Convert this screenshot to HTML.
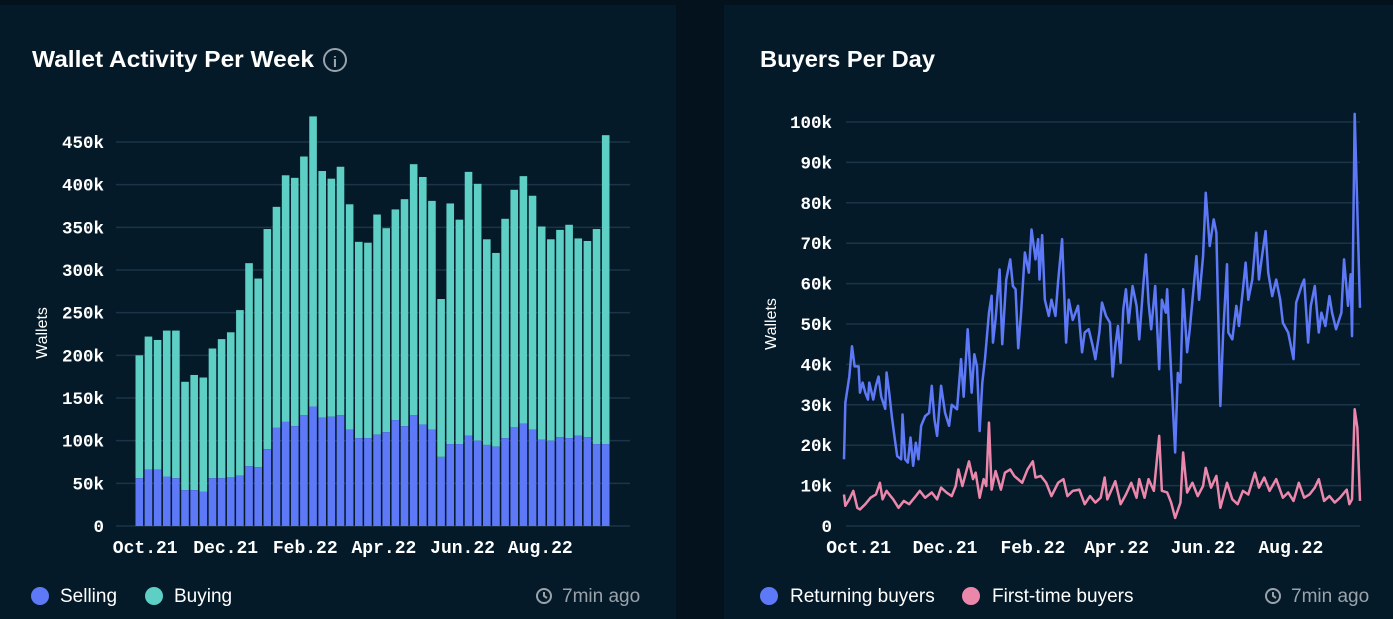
<!DOCTYPE html>
<html><head><meta charset="utf-8">
<style>
html,body{margin:0;padding:0;background:#03121c;width:1393px;height:619px;overflow:hidden}
svg{display:block}
.t{font-family:"Liberation Sans",sans-serif}
.m{font-family:"Liberation Mono",monospace;font-weight:bold}
</style></head><body>
<svg id="s" width="1393" height="619" xmlns="http://www.w3.org/2000/svg">
<rect x="0" y="5" width="676" height="614" fill="#041a29"/>
<rect x="724" y="5" width="669" height="614" fill="#041a29"/>
<text x="32" y="67" class="t" font-size="23" font-weight="bold" fill="#fff" textLength="282" lengthAdjust="spacingAndGlyphs">Wallet Activity Per Week</text>
<g><circle cx="335" cy="60" r="11" fill="none" stroke="#9aa3ab" stroke-width="2"/><text x="335" y="67" text-anchor="middle" class="t" font-size="15" font-weight="bold" fill="#9aa3ab">i</text></g>
<text x="760" y="67" class="t" font-size="23" font-weight="bold" fill="#fff" textLength="175" lengthAdjust="spacingAndGlyphs">Buyers Per Day</text>
<text x="47" y="333" class="t" font-size="16" fill="#fff" transform="rotate(-90 47 333)" text-anchor="middle">Wallets</text>
<text x="776" y="324" class="t" font-size="16" fill="#fff" transform="rotate(-90 776 324)" text-anchor="middle">Wallets</text>
<g><circle cx="40" cy="596" r="9" fill="#5e79f7"/><text x="60" y="602" class="t" font-size="19" fill="#fff">Selling</text></g>
<g><circle cx="154" cy="596" r="9" fill="#5ecfc4"/><text x="174" y="602" class="t" font-size="19" fill="#fff">Buying</text></g>
<g><circle cx="544" cy="596" r="7" fill="none" stroke="#9aa3ab" stroke-width="2"/><path d="M544 592v4l3 2" stroke="#9aa3ab" stroke-width="2" fill="none"/><text x="562" y="602" class="t" font-size="19" fill="#9aa3ab">7min ago</text></g>
<g><circle cx="769" cy="596" r="9" fill="#5e79f7"/><text x="790" y="602" class="t" font-size="19" fill="#fff">Returning buyers</text></g>
<g><circle cx="971" cy="596" r="9" fill="#ec87ac"/><text x="992" y="602" class="t" font-size="19" fill="#fff">First-time buyers</text></g>
<g><circle cx="1273" cy="596" r="7" fill="none" stroke="#9aa3ab" stroke-width="2"/><path d="M1273 592v4l3 2" stroke="#9aa3ab" stroke-width="2" fill="none"/><text x="1291" y="602" class="t" font-size="19" fill="#9aa3ab">7min ago</text></g>
<g id="lc"></g>
<g id="rc"></g>
</svg>
<script>
const weekTotals=[200,222,218,229,229,169,177,174,208,219,227,253,308,290,348,374,411,408,433,480,416,407,421,377,333,332,365,349,371,383,424,409,381,266,378,359,415,401,336,320,360,394,410,387,351,336,347,353,337,334,348,458];
const weekSelling=[56,66,66,58,56,42,42,40,56,56,57,59,70,69,90,115,122,117,130,140,127,128,130,113,103,103,107,110,124,117,130,119,113,81,96,96,106,100,95,93,103,116,120,113,101,100,104,103,106,104,96,96];
const leftTicks=[0,50,100,150,200,250,300,350,400,450];
const leftXLabels=["Oct.21","Dec.21","Feb.22","Apr.22","Jun.22","Aug.22"];
const leftXLabelWeeks=[1.5,10.3,19,27.6,36.2,44.7];

const retDays=[0,1,4,6,8,11,12,14,16,18,19,22,24,26,28,31,32,34,36,38,40,43,44,46,48,50,52,54,56,58,61,64,66,68,70,73,76,79,81,85,88,90,93,96,98,100,102,104,106,109,111,112,114,117,119,122,125,127,129,131,133,136,139,141,144,146,147,149,151,154,156,159,161,164,167,169,172,176,179,181,184,187,189,192,194,197,200,202,204,206,208,210,212,214,217,220,222,225,227,229,231,234,237,239,242,243,246,249,251,253,255,258,260,263,265,267,270,272,275,278,280,283,285,288,289,292,295,297,300,302,304,307,310,312,314,317,319,322,325,328,330,334,338,340,344,346,349,351,354,357,359,362,365,367,370,374,376,379,381,382,384,386,388];
const retValues=[16.5,30.5,37,44.5,39.5,39.5,33,35.5,33,31.3,35.5,31.3,34.7,37,32,29,38,33,27,22,17.3,16.5,27.6,16.5,15.7,21.9,14.9,20.6,16.5,24.8,27.2,28,34.7,26.4,22.3,34.7,28,24.8,30,28.9,41.3,32,48.7,33,42.5,39.5,23.5,35.5,41.3,52.8,57,45.4,51.2,63.5,45,61,66,59.4,58.6,44,52,67.7,62.7,73.4,66,71,61,72,56,52,56,52,60.6,71,45.4,56,51,54.5,43,47.9,48.7,44.6,41.3,47.9,55.3,52,50.3,37,44.6,49.5,40.4,53.6,58.6,50.3,59.4,54.5,46.2,59.4,67.2,55.3,48.7,59.4,38.8,56,52.8,58.6,37.9,18.2,37.9,35.5,58.6,43,48.7,59.4,66.8,56,66.8,82.5,69.3,75.9,72.6,29.7,47,64.8,47.9,46.2,54.5,49.5,58.6,65.2,56,61,72.6,61,66,73,62.7,56.9,61,56,50.3,47.9,41.3,55.3,59.4,61,45.4,54.5,59.4,47.9,52.8,49.5,56.9,52.8,48.7,52.8,66,54.5,62.3,47,102,78.4,54];
const newDays=[0,1,4,7,10,12,16,20,24,27,29,32,35,37,41,45,49,53,57,61,66,70,73,77,81,84,86,89,94,97,99,102,105,107,109,111,114,118,121,125,128,134,138,142,144,148,152,156,161,165,168,172,177,181,185,189,193,196,198,204,208,212,216,220,222,226,229,233,237,239,243,246,249,253,255,258,262,266,270,272,276,280,283,288,292,296,300,304,309,312,316,320,325,330,334,338,342,346,350,354,357,361,365,369,373,378,380,382,384,386,388];
const newValues=[7.8,5,6.6,8.7,4.5,4.1,5.4,7,7.8,10.7,6.6,8.7,7.4,6.6,4.5,6.2,5.4,7,8.7,7,8.3,6.6,9.5,8.3,7.4,9.9,14,9.9,16,11.6,13.2,7,11.6,9.9,25.6,9,13.6,9,13.2,14,12.4,10.7,14,16,12,12.4,10.7,7.4,10.7,11.6,7.4,8.7,9,5.4,7.4,5.8,7,12,6.6,11.1,5.4,7.8,10.7,7,11.6,7,11.6,8.7,22.3,8.7,8.3,5.8,2,5.8,18.2,8.3,10.7,7.4,9.9,14.4,9.5,12.4,4.5,10.7,6.6,5.4,8.7,7.8,13.2,9.5,12,8.7,11.6,7,8.3,6.2,10.7,7,7.8,9.5,11.6,6.2,7.4,5.8,7,9,5.4,6.6,28.9,24.3,6.2];
const rightTicks=[0,10,20,30,40,50,60,70,80,90,100];
const rightXLabels=["Oct.21","Dec.21","Feb.22","Apr.22","Jun.22","Aug.22"];
const rightXLabelDays=[11,76,142,205,270,336];

const NS="http://www.w3.org/2000/svg";
function mk(p,tag,a){const e=document.createElementNS(NS,tag);for(const k in a)e.setAttribute(k,a[k]);p.appendChild(e);return e;}

const lc=document.getElementById('lc');
const ly=v=>526-v*(384/450);
const lx=i=>135.5+i*9.145;
const bw=7.6;
leftTicks.forEach(t=>{
  const g=mk(lc,'line',{x1:116,x2:630,y1:ly(t),y2:ly(t),stroke:'#1b3447','stroke-width':1.5});
  
  
  const tx=mk(lc,'text',{x:104,y:ly(t)+6,'text-anchor':'end',class:'m','font-size':17.5,fill:'#fff'});
  tx.textContent=t===0?'0':t+'k';
  
  
});
weekTotals.forEach((tot,i)=>{
  const s=weekSelling[i];
  const b=mk(lc,'rect',{x:lx(i),y:ly(tot),width:bw,height:ly(s)-ly(tot),fill:'#5ecfc4'});
  
  
  const a=mk(lc,'rect',{x:lx(i),y:ly(s),width:bw,height:ly(0)-ly(s),fill:'#5e79f7'});
  
  
});
leftXLabels.forEach((l,i)=>{
  const t=mk(lc,'text',{x:lx(leftXLabelWeeks[i])-4,y:553,'text-anchor':'middle',class:'m','font-size':18,fill:'#fff'});
  t.textContent=l;
  
  
});

const rc=document.getElementById('rc');
const ry=v=>526-v*4.04;
const rx=d=>844+d*(516/388);
rightTicks.forEach(t=>{
  const g=mk(rc,'line',{x1:846,x2:1360,y1:ry(t),y2:ry(t),stroke:'#1b3447','stroke-width':1.5});
  
  
  const tx=mk(rc,'text',{x:832,y:ry(t)+6,'text-anchor':'end',class:'m','font-size':17.5,fill:'#fff'});
  tx.textContent=t===0?'0':t+'k';
  
  
});
rightXLabels.forEach((l,i)=>{
  const t=mk(rc,'text',{x:rx(rightXLabelDays[i]),y:553,'text-anchor':'middle',class:'m','font-size':18,fill:'#fff'});
  t.textContent=l;
  
  
});
const pn=mk(rc,'polyline',{points:newDays.map((d,i)=>rx(d)+','+ry(newValues[i])).join(' '),fill:'none',stroke:'#ec87ac','stroke-width':2.5,'stroke-linejoin':'round'});


const pr=mk(rc,'polyline',{points:retDays.map((d,i)=>rx(d)+','+ry(retValues[i])).join(' '),fill:'none',stroke:'#5e79f7','stroke-width':2.5,'stroke-linejoin':'round'});


</script>
</body></html>
